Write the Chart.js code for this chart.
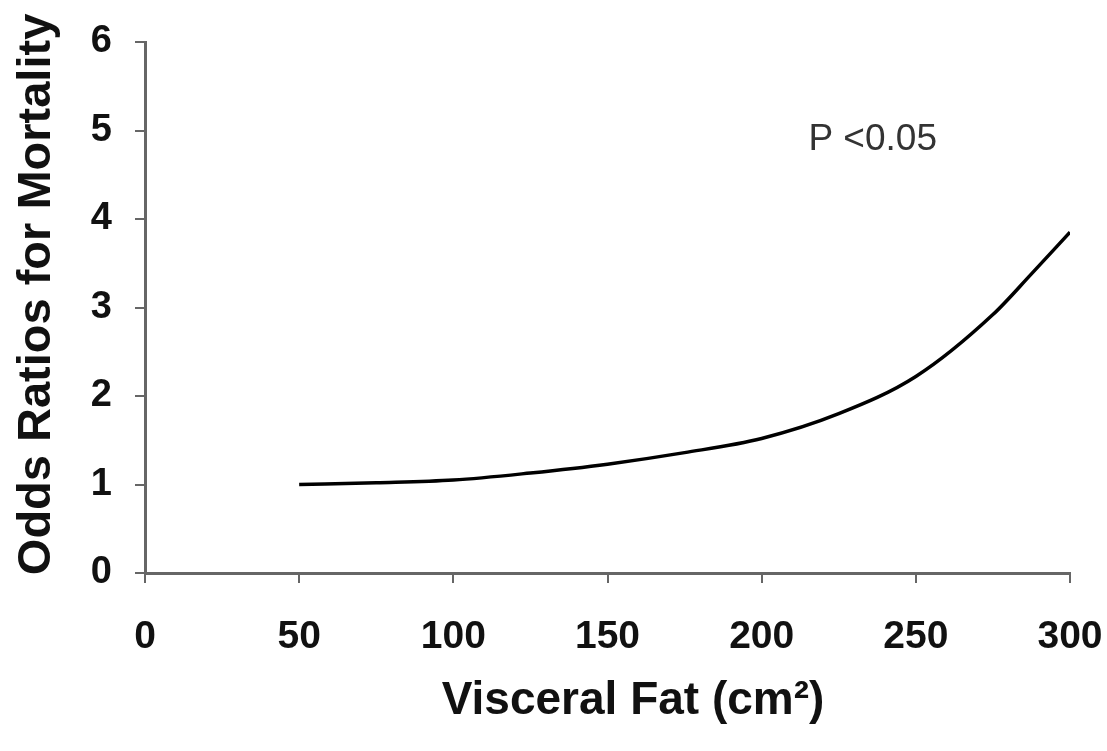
<!DOCTYPE html>
<html>
<head>
<meta charset="utf-8">
<script src="https://cdn.jsdelivr.net/npm/chart.js@4"></script>
<style>
  html, body { margin: 0; padding: 0; background: #fff; }
  #wrap { width: 1107px; height: 751px; }
</style>
</head>
<body>
<div id="wrap"><canvas id="chart" width="1107" height="751"></canvas></div>
<script>
// visceral fat (cm2) vs odds ratio
const visceralFat = [50, 75, 100, 125, 150, 175, 200, 225, 250, 275, 287.5, 300];
const oddsRatio = [1.0, 1.02, 1.05, 1.13, 1.23, 1.36, 1.52, 1.80, 2.22, 2.92, 3.38, 3.85];

const xTicks = [0, 50, 100, 150, 200, 250, 300];
const yTicks = [0, 1, 2, 3, 4, 5, 6];

const pLabel = 'P <0.05';
const pLabelAt = [236, 4.9];

const sans = "'Liberation Sans', Arial, sans-serif";

const pValuePlugin = {
    id: 'pValue',
    afterDraw(chart) {
        const ctx = chart.ctx;
        const x = chart.scales.x.getPixelForValue(pLabelAt[0]);
        const y = chart.scales.y.getPixelForValue(pLabelAt[1]);
        ctx.save();
        ctx.font = '37px ' + sans;
        ctx.fillStyle = '#333';
        ctx.textAlign = 'center';
        ctx.textBaseline = 'middle';
        ctx.fillText(pLabel, x, y);
        ctx.restore();
    }
};

const data = {
    datasets: [
        {
            label: 'Odds ratio',
            data: visceralFat.map((v, i) => ({ x: v, y: oddsRatio[i] })),
            borderColor: '#000',
            borderWidth: 3.5,
            pointRadius: 0,
            cubicInterpolationMode: 'monotone',
            fill: false
        }
    ]
};

const config = {
    type: 'line',
    data,
    options: {
        responsive: false,
        maintainAspectRatio: false,
        animation: false,
        layout: {
            padding: { top: 42, right: 37, left: 5, bottom: 0 }
        },
        plugins: {
            legend: { display: false },
            tooltip: { enabled: false }
        },
        scales: {
            x: {
                type: 'linear',
                min: 0,
                max: 300,
                afterBuildTicks: (scale) => { scale.ticks = xTicks.map((v) => ({ value: v })); },
                afterFit: (scale) => { scale.height = 178; },
                border: { display: true, color: '#666', width: 3 },
                grid: { drawOnChartArea: false, drawTicks: true, tickLength: 10, color: '#666', lineWidth: 2 },
                ticks: {
                    color: '#111',
                    // tall line box pushes the labels down without widening the right overflow
                    padding: 0,
                    maxRotation: 0,
                    font: { family: sans, size: 39, weight: 'bold', lineHeight: 2.77 }
                },
                title: {
                    display: true,
                    text: '    Visceral Fat (cm²)',
                    color: '#111',
                    padding: { top: 0, bottom: 22 },
                    font: { family: sans, size: 46, weight: 'bold' }
                }
            },
            y: {
                min: 0,
                max: 6,
                afterBuildTicks: (scale) => { scale.ticks = yTicks.map((v) => ({ value: v })); },
                afterFit: (scale) => { scale.width = 140; },
                border: { display: true, color: '#666', width: 3 },
                grid: { drawOnChartArea: false, drawTicks: true, tickLength: 10, color: '#666', lineWidth: 2 },
                ticks: {
                    color: '#111',
                    padding: 23,
                    font: { family: sans, size: 38, weight: 'bold', lineHeight: 1 }
                },
                title: {
                    display: true,
                    text: '  Odds Ratios for Mortality',
                    color: '#111',
                    padding: { bottom: 8 },
                    font: { family: sans, size: 47, weight: 'bold' }
                }
            }
        }
    },
    plugins: [pValuePlugin]
};

new Chart(document.getElementById('chart'), config);
</script>
</body>
</html>
